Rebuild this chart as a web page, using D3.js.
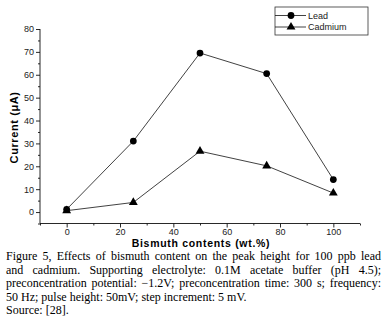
<!DOCTYPE html>
<html>
<head>
<meta charset="utf-8">
<script src="https://cdn.jsdelivr.net/npm/d3@7"></script>
<style>
  body { margin: 0; background: #fff; }
  svg { display: block; }
  .tick text { font-family: "Liberation Sans", Arial, sans-serif; font-size: 9px; fill: #222; }
</style>
</head>
<body>
<div id="chart"></div>
<script>
// data
const bismuth = [0, 25, 50, 75, 100];
const lead = [1.2, 31, 69.5, 60.5, 14.2];
const cadmium = [0.6, 4.2, 26.6, 20.2, 8.3];
const seriesNames = ['Lead', 'Cadmium'];
const xTicks = [0, 20, 40, 60, 80, 100];
const yTicks = [0, 10, 20, 30, 40, 50, 60, 70, 80];
const captionLines = [
  'Figure 5, Effects of bismuth content on the peak height for 100 ppb lead',
  'and cadmium. Supporting electrolyte: 0.1M acetate buffer (pH 4.5);',
  'preconcentration potential: \u22121.2V; preconcentration time: 300 s; frequency:',
  '50 Hz; pulse height: 50mV; step increment: 5 mV.',
  'Source: [28].'
];
const justified = [true, true, true, false, false];

const W = 385, H = 324;
const svg = d3.select('#chart').append('svg').attr('width', W).attr('height', H);

const x = d3.scaleLinear().domain([-10, 110]).range([40, 360]);
const y = d3.scaleLinear().domain([-5, 80]).range([223.5, 29]);

// axes
const xAxis = svg.append('g').attr('transform', `translate(0,${y(-5)})`)
  .call(d3.axisBottom(x).tickValues(xTicks).tickSize(4).tickPadding(1));
svg.append('g').attr('transform', `translate(0,${y(-5)})`)
  .call(d3.axisBottom(x).tickValues(d3.range(-10, 111, 20)).tickSize(2).tickFormat(''))
  .select('.domain').remove();
const yAxis = svg.append('g').attr('transform', `translate(${x(-10)},0)`)
  .call(d3.axisLeft(y).tickValues(yTicks).tickSize(4).tickPadding(2));
svg.append('g').attr('transform', `translate(${x(-10)},0)`)
  .call(d3.axisLeft(y).tickValues(d3.range(-5, 80, 10)).tickSize(2).tickFormat(''))
  .select('.domain').remove();
svg.selectAll('.domain, .tick line').attr('stroke', '#111').attr('stroke-width', 0.9);
// trim domain end caps
xAxis.select('.domain').attr('d', `M${x(-10)},0H${x(110)}`);
yAxis.select('.domain').attr('d', `M0,${y(-5)}V${y(80)}`);

// axis labels
svg.append('text')
  .attr('x', 201).attr('y', 246.5)
  .attr('text-anchor', 'middle')
  .attr('font-family', '"Liberation Sans", Arial, sans-serif')
  .attr('font-size', 10.5).attr('font-weight', 'bold')
  .attr('letter-spacing', 0.7)
  .text('Bismuth contents (wt.%)');
svg.append('text')
  .attr('transform', `translate(18,${y(37)}) rotate(-90)`)
  .attr('text-anchor', 'middle')
  .attr('font-family', '"Liberation Sans", Arial, sans-serif')
  .attr('font-size', 11).attr('font-weight', 'bold')
  .attr('letter-spacing', 0.6)
  .text('Current (\u03bcA)');

// lines + markers
const line = d3.line().x(d => x(d[0])).y(d => y(d[1]));
const series = [lead, cadmium].map(vals => bismuth.map((b, i) => [b, vals[i]]));
const symbols = [d3.symbolCircle, d3.symbolTriangle];
const symSize = [36, 34];

series.forEach((pts, k) => {
  svg.append('path').datum(pts)
    .attr('d', line).attr('fill', 'none')
    .attr('stroke', '#111').attr('stroke-width', 0.8);
  svg.append('g').selectAll('path').data(pts).enter().append('path')
    .attr('transform', d => `translate(${x(d[0])},${y(d[1])})`)
    .attr('d', d3.symbol().type(symbols[k]).size(symSize[k]))
    .attr('fill', '#000');
});

// legend
const lg = svg.append('g').attr('transform', 'translate(275,7)');
lg.append('rect').attr('width', 93).attr('height', 28)
  .attr('fill', '#fff').attr('stroke', '#333').attr('stroke-width', 0.8);
seriesNames.forEach((name, k) => {
  const ly = 8.5 + k * 11.5;
  lg.append('line').attr('x1', 0).attr('x2', 31).attr('y1', ly).attr('y2', ly)
    .attr('stroke', '#111').attr('stroke-width', 0.8);
  lg.append('path').attr('transform', `translate(16,${ly})`)
    .attr('d', d3.symbol().type(symbols[k]).size(symSize[k])).attr('fill', '#000');
  lg.append('text').attr('x', 33).attr('y', ly + 3)
    .attr('font-family', '"Liberation Sans", Arial, sans-serif')
    .attr('font-size', 9).attr('fill', '#222')
    .text(name);
});

// caption, justified word by word
const capLeft = 6, capRight = 381;
const cap = svg.append('g')
  .attr('font-family', '"Liberation Serif", "Times New Roman", serif')
  .attr('font-size', 12).attr('fill', '#000');
captionLines.forEach((txt, i) => {
  const by = 260 + i * 13.5;
  if (!justified[i]) {
    cap.append('text').attr('x', capLeft).attr('y', by).text(txt);
    return;
  }
  const words = txt.split(' ');
  const nodes = words.map(w => cap.append('text').attr('y', by).text(w));
  const widths = nodes.map(n => n.node().getComputedTextLength());
  const gap = (capRight - capLeft - d3.sum(widths)) / (words.length - 1);
  let cx = capLeft;
  nodes.forEach((n, j) => { n.attr('x', cx); cx += widths[j] + gap; });
});
</script>
</body>
</html>
